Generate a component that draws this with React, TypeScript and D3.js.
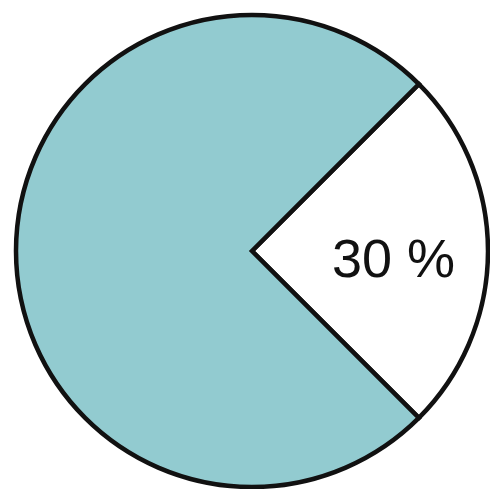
import React from 'react';
import { pie, arc } from 'd3';

const svgWidth = 490;
const svgHeight = 489;

const centerX = 252;
const centerY = 251;
const radius = 236;

// slices as drawn in the picture: white slice, teal rest
const sliceNames = ['part', 'rest'];
const sliceValues = [25, 75];
const sliceColors = ['#ffffff', '#92cbd0'];
const sliceLabels = ['30 %', ''];

const pieArc = arc().innerRadius(0).outerRadius(radius);

export default function App() {
  const slices = pie<number>()
    .sort(null)
    .value((d) => d)
    .startAngle(Math.PI / 4)
    .endAngle(Math.PI / 4 + Math.PI * 2)(sliceValues);

  return (
    <svg
      width={svgWidth}
      height={svgHeight}
      style={{ position: 'absolute', left: 0, top: 0, background: '#fff' }}
    >
      <g transform={`translate(${centerX}, ${centerY})`}>
        {slices.map((d, i) => (
          <path
            key={sliceNames[i]}
            d={pieArc(d as any) || ''}
            fill={sliceColors[i]}
            stroke="#111"
            strokeWidth={4.5}
            strokeLinejoin="miter"
          />
        ))}
        {slices.map((d, i) => {
          if (!sliceLabels[i]) return null;
          const mid = (d.startAngle + d.endAngle) / 2;
          const r = radius * 0.6;
          return (
            <text
              key={'l' + i}
              x={Math.sin(mid) * r}
              y={-Math.cos(mid) * r}
              dy="0.48em"
              textAnchor="middle"
              fontFamily="Liberation Sans, Arial, sans-serif"
              fontSize={54}
              fill="#111"
            >
              {sliceLabels[i]}
            </text>
          );
        })}
      </g>
    </svg>
  );
}
